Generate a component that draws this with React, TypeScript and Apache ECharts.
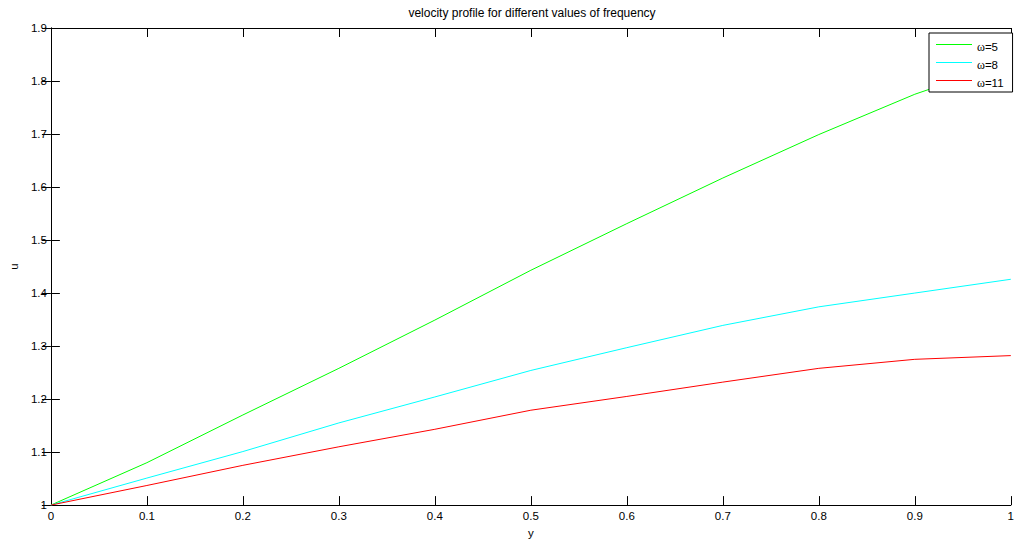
import React, { useEffect, useRef } from "react";
import * as echarts from "echarts";

// Distance across the channel
const yPositions = [0, 0.1, 0.2, 0.3, 0.4, 0.5, 0.6, 0.7, 0.8, 0.9, 1.0];

// Velocity u for each frequency
const uOmega5 = [1, 1.08, 1.17, 1.258, 1.349, 1.443, 1.531, 1.617, 1.699, 1.775, 1.837];
const uOmega8 = [1, 1.051, 1.101, 1.155, 1.204, 1.254, 1.297, 1.339, 1.374, 1.4, 1.426];
const uOmega11 = [1, 1.037, 1.075, 1.11, 1.143, 1.179, 1.205, 1.232, 1.258, 1.275, 1.282];

const seriesNames = ["ω=5", "ω=8", "ω=11"];
const seriesColors = ["#00ff00", "#00ffff", "#ff0000"];

const FONT = "'Liberation Sans', Arial, Helvetica, sans-serif";
const SERIF = "'Liberation Serif', 'Times New Roman', serif";

const fmt = (v: number) => String(+v.toFixed(1));

export default function App() {
  const ref = useRef<HTMLDivElement>(null);

  useEffect(() => {
    if (!ref.current) return;
    const chart = echarts.init(ref.current, undefined, { renderer: "svg" });
    const values = [uOmega5, uOmega8, uOmega11];

    const tickStyle = { show: true, inside: true, length: 9, lineStyle: { color: "#000", width: 1 } };
    const lineStyle = { show: true, lineStyle: { color: "#000", width: 1 } };
    const labelStyle = { fontSize: 11.5, color: "#000", fontFamily: FONT };

    chart.setOption({
      animation: false,
      backgroundColor: "#fff",
      textStyle: { fontFamily: FONT },
      title: {
        text: "velocity profile for different values of frequency",
        left: 532,
        textAlign: "center",
        top: 7,
        padding: 0,
        textStyle: { fontSize: 12, fontWeight: "normal", color: "#000", fontFamily: FONT },
      },
      grid: { left: 49, top: 28, right: 2, bottom: 32, containLabel: false },
      legend: {
        orient: "vertical",
        left: 929,
        top: 33,
        padding: [3, 9, 3, 7],
        itemWidth: 36,
        itemHeight: 1,
        itemGap: 1,
        itemTextGap: 5,
        icon: "rect",
        backgroundColor: "#fff",
        borderColor: "#000",
        borderWidth: 1,
        borderRadius: 0,
        data: seriesNames.map((name, i) => ({
          name,
          itemStyle: { color: seriesColors[i], borderWidth: 0 },
        })),
        formatter: (name: string) => `{w|ω}{t|${name.slice(1)}}`,
        textStyle: {
          fontSize: 11.5,
          lineHeight: 12,
          color: "#000",
          rich: {
            w: { fontFamily: SERIF, fontSize: 12, lineHeight: 12, padding: [5, 0, 0, 0], color: "#000" },
            t: { fontFamily: FONT, fontSize: 11.5, lineHeight: 12, padding: [5, 0, 0, 0], color: "#000" },
          },
        },
      },
      xAxis: [
        {
          type: "value",
          min: 0,
          max: 1,
          interval: 0.1,
          name: "y",
          nameLocation: "middle",
          nameGap: 20,
          nameTextStyle: labelStyle,
          axisLine: lineStyle,
          axisTick: tickStyle,
          axisLabel: { ...labelStyle, margin: 5, formatter: fmt },
          splitLine: { show: false },
        },
        {
          type: "value",
          position: "top",
          min: 0,
          max: 1,
          interval: 0.1,
          axisLine: lineStyle,
          axisTick: tickStyle,
          axisLabel: { show: false },
          splitLine: { show: false },
        },
      ],
      yAxis: [
        {
          type: "value",
          min: 1,
          max: 1.9,
          interval: 0.1,
          name: "u",
          nameLocation: "middle",
          nameGap: 22,
          nameTextStyle: labelStyle,
          axisLine: lineStyle,
          axisTick: tickStyle,
          axisLabel: { ...labelStyle, margin: 4, formatter: fmt },
          splitLine: { show: false },
        },
        {
          type: "value",
          position: "right",
          min: 1,
          max: 1.9,
          interval: 0.1,
          axisLine: lineStyle,
          axisTick: tickStyle,
          axisLabel: { show: false },
          splitLine: { show: false },
        },
      ],
      series: seriesNames.map((name, i) => ({
        name,
        type: "line",
        xAxisIndex: 0,
        yAxisIndex: 0,
        showSymbol: false,
        symbol: "none",
        smooth: false,
        lineStyle: { color: seriesColors[i], width: 1 },
        itemStyle: { color: seriesColors[i] },
        data: yPositions.map((x, k) => [x, values[i][k]]),
        z: 2,
      })),
    });

    return () => chart.dispose();
  }, []);

  return (
    <div
      ref={ref}
      style={{ position: "absolute", left: 0, top: 0, width: 1017, height: 544, background: "#fff" }}
    />
  );
}
